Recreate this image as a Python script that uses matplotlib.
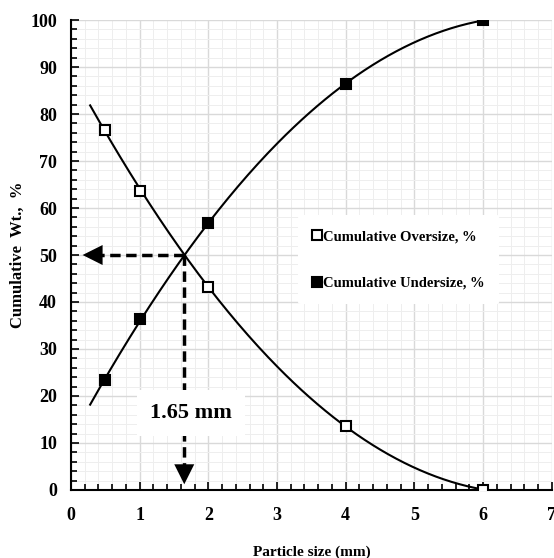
import numpy as np
import matplotlib
matplotlib.use("Agg")
import matplotlib.pyplot as plt
from matplotlib.ticker import MultipleLocator

plt.rcParams['font.family'] = ['Liberation Serif', 'DejaVu Serif']
plt.rcParams['font.weight'] = 'bold'

# data
size_mm = [0.5, 1, 2, 4, 6]
oversize = [76.7, 63.6, 43.2, 13.7, 0.0]
undersize = [23.3, 36.4, 56.8, 86.3, 100.0]
d50 = 1.65

fig = plt.figure(figsize=(5.54, 5.58), dpi=100)
ax = fig.add_axes([0.128, 0.122, 0.868, 0.842])

# polynomial trendlines (2nd order), like the spreadsheet ones
xfit = np.linspace(0.28, 6, 200)
p_over = np.polyfit(size_mm, oversize, 2)
p_under = np.polyfit(size_mm, undersize, 2)
ax.plot(xfit, np.polyval(p_over, xfit), color='black', lw=1.5, zorder=3)
ax.plot(xfit, np.polyval(p_under, xfit), color='black', lw=1.5, zorder=3)

ax.plot(size_mm, oversize, 's', ms=7.5, mfc='white', mec='black', mew=1.5,
        ls='none', label='Cumulative Oversize, %', zorder=4)
ax.plot(size_mm, undersize, 's', ms=7.5, mfc='black', mec='black', mew=1.5,
        ls='none', label='Cumulative Undersize, %', zorder=4)

# dashed lines from the crossing point, with solid heads
ax.plot([d50, 0.35], [50, 50], color='black', lw=2.5, ls=(0, (3, 1.6)), zorder=5)
ax.plot([d50, d50], [50, 4], color='black', lw=2.5, ls=(0, (3, 1.6)), zorder=5)
head = dict(arrowstyle='-|>,head_length=0.9,head_width=0.45', lw=0, color='black',
            mutation_scale=16, shrinkA=0, shrinkB=0)
ax.annotate('', xy=(0.17, 50), xytext=(0.45, 50), arrowprops=head, zorder=5)
ax.annotate('', xy=(d50, 1.2), xytext=(d50, 5), arrowprops=head, zorder=5)
ax.text(1.75, 16.4, '1.65 mm', ha='center', va='center', fontsize=16, fontweight='bold',
        bbox=dict(boxstyle='square,pad=0.6', fc='white', ec='none'), zorder=6)

ax.set_xlim(0, 7)
ax.set_ylim(0, 100)
ax.xaxis.set_major_locator(MultipleLocator(1))
ax.xaxis.set_minor_locator(MultipleLocator(0.2))
ax.yaxis.set_major_locator(MultipleLocator(10))
ax.yaxis.set_minor_locator(MultipleLocator(2))
ax.grid(which='major', color='#d9d9d9', lw=1)
ax.grid(which='minor', color='#eeeeee', lw=0.7)
ax.set_axisbelow(True)
ax.tick_params(which='both', direction='in', top=False, right=False, labelsize=13, width=1.2)
ax.tick_params(which='major', length=6)
ax.tick_params(axis='x', which='major', pad=12)
ax.tick_params(axis='y', which='major', pad=10)
ax.tick_params(which='minor', length=4)
for s in ['top', 'right']:
    ax.spines[s].set_visible(False)
for s in ['left', 'bottom']:
    ax.spines[s].set_linewidth(1.5)

ax.set_xlabel('Particle size (mm)', fontsize=11, fontweight='bold', labelpad=16)
ax.set_ylabel('Cumulative  Wt.,  %', fontsize=12, fontweight='bold', labelpad=3)

leg = ax.legend(loc='upper left', bbox_to_anchor=(0.458, 0.6), frameon=True, fontsize=10.5,
                handlelength=0.5, handletextpad=0.2, labelspacing=2.3, borderpad=1.0,
                markerscale=0.9)
leg.get_frame().set_edgecolor('none')
leg.get_frame().set_facecolor('white')
leg.get_frame().set_alpha(1)

fig.savefig('out.png', dpi=100)
